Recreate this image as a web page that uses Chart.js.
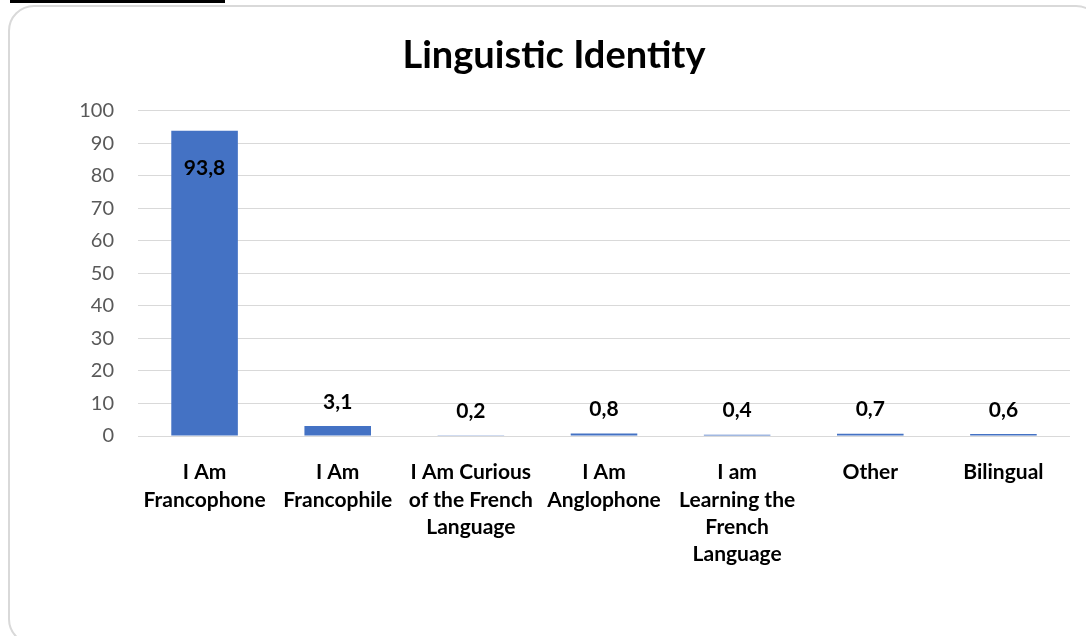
<!DOCTYPE html>
<html>
<head>
<meta charset="utf-8">
<script src="https://cdn.jsdelivr.net/npm/chart.js@4"></script>
<style>
  html, body { margin: 0; padding: 0; background: #fff; }
  #wrap { position: relative; width: 1086px; height: 636px; overflow: hidden; }
  #topline { position: absolute; left: 10px; top: 0; width: 215px; height: 3px; background: #000; }
  #frame { position: absolute; left: 8px; top: 5px; width: 1094px; height: 640px; border: 2px solid #d9d9d9; border-radius: 26px; box-sizing: border-box; }
  #c { position: absolute; left: 0; top: 0; }
</style>
</head>
<body>
<div id="wrap">
  <div id="topline"></div>
  <div id="frame"></div>
  <canvas id="c" width="1086" height="636"></canvas>
</div>
<script>
const categories = [
  ["I Am", "Francophone"],
  ["I Am", "Francophile"],
  ["I Am Curious", "of the French", "Language"],
  ["I Am", "Anglophone"],
  ["I am", "Learning the", "French", "Language"],
  ["Other"],
  ["Bilingual"]
];
const values = [93.8, 3.1, 0.2, 0.8, 0.4, 0.7, 0.6];
const yTicks = [0, 10, 20, 30, 40, 50, 60, 70, 80, 90, 100];
const chartTitle = "Linguistic Identity";

const labelPlugin = {
  id: 'valueLabels',
  afterDatasetsDraw(chart) {
    const ctx = chart.ctx;
    const meta = chart.getDatasetMeta(0);
    ctx.save();
    ctx.font = 'bold 21px Lato';
    ctx.fillStyle = '#000';
    ctx.textAlign = 'center';
    ctx.textBaseline = 'middle';
    meta.data.forEach((bar, i) => {
      const v = values[i];
      const txt = v.toFixed(1).replace('.', ',');
      let y;
      if (v > 50) y = bar.y + 36;
      else y = bar.y - 25;
      ctx.fillText(txt, bar.x, y + 1);
    });
    ctx.restore();
  }
};

new Chart(document.getElementById('c'), {
  type: 'bar',
  data: {
    labels: categories,
    datasets: [{
      data: values,
      backgroundColor: '#4472C4',
      categoryPercentage: 1,
      barPercentage: 0.5
    }]
  },
  options: {
    responsive: false,
    animation: false,
    devicePixelRatio: 1,
    layout: { padding: { left: 38, right: 16, top: 0, bottom: 0 } },
    plugins: {
      legend: { display: false },
      tooltip: { enabled: false },
      title: {
        display: true,
        text: chartTitle,
        color: '#000',
        font: { family: 'Lato', size: 38, weight: 'bold', lineHeight: 1.2 },
        padding: { top: 33, bottom: 32 }
      }
    },
    scales: {
      x: {
        grid: { display: false },
        border: { display: false },
        ticks: {
          color: '#000',
          font: { family: 'Lato', size: 21, weight: 'bold', lineHeight: 1.3 },
          padding: 15,
          maxRotation: 0,
          autoSkip: false
        },
        afterFit(scale) { scale.height = 200; }
      },
      y: {
        min: 0,
        max: 100,
        afterBuildTicks(scale) { scale.ticks = yTicks.map(v => ({ value: v })); },
        grid: { color: '#d9d9d9', lineWidth: 1, drawTicks: false },
        border: { display: false },
        ticks: {
          color: '#595959',
          font: { family: 'Lato', size: 20 },
          padding: 24
        },
        afterFit(scale) { scale.width = 100; }
      }
    }
  },
  plugins: [labelPlugin]
});
</script>
</body>
</html>
